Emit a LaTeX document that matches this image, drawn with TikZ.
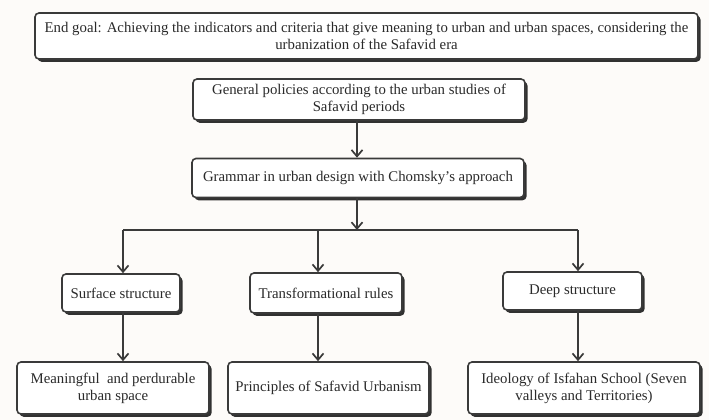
\documentclass[tikz,border=0pt]{standalone}
\usepackage{fontspec}
\setmainfont{Liberation Serif}
\usetikzlibrary{arrows.meta,shadows,calc}
\definecolor{ink}{HTML}{3A3A3A}
\definecolor{textink}{HTML}{2A2A2A}
\definecolor{paper}{HTML}{FDFBF9}
\tikzset{
  x=1pt, y=-1pt,
  box/.style={draw=ink, line width=1.6pt, rounded corners=4pt, fill=white,
    text=textink, align=center, inner sep=2pt,
    drop shadow={shadow xshift=2.6pt, shadow yshift=-2.8pt, fill=ink!85!black, opacity=1}},
  link/.style={draw=ink, line width=1.8pt},
  arr/.style={link, -{Straight Barb[length=6.5pt,width=11pt,line width=1.7pt]}},
  txt/.style={font=\fontsize{14.8}{17}\selectfont}
}
\begin{document}
\begin{tikzpicture}
\fill[paper] (0,0) rectangle (709,420);
\useasboundingbox (0,0) rectangle (709,420);

% boxes
\node[box, txt, minimum width=663pt, minimum height=46pt] (goal) at (366.5,36)
  {End goal: Achieving the indicators and criteria that give meaning to urban and urban spaces, considering the\\ urbanization of the Safavid era};
\node[box, txt, minimum width=332pt, minimum height=41pt] (policies) at (359,99.5)
  {General policies according to the urban studies of\\ Safavid periods};
\node[box, txt, minimum width=332pt, minimum height=39pt] (grammar) at (358,178)
  {Grammar in urban design with Chomsky's approach};

\node[box, txt, minimum width=118pt, minimum height=38pt] (surface) at (121,293) {Surface structure};
\node[box, txt, minimum width=152pt, minimum height=40pt] (trans) at (326,293) {Transformational rules};
\node[box, txt, minimum width=139pt, minimum height=38pt] (deep) at (572.5,291) {Deep structure};

\node[box, txt, minimum width=192pt, minimum height=52pt] (space) at (113,388)
  {Meaningful\ \ and perdurable\\ urban space};
\node[box, txt, minimum width=201pt, minimum height=52pt] (principles) at (328.5,388)
  {Principles of Safavid Urbanism};
\node[box, txt, minimum width=232pt, minimum height=52pt] (ideology) at (584,388)
  {Ideology of Isfahan School (Seven\\ valleys and Territories)};

% branching points
\coordinate (hub) at (357,230);
\coordinate (c1) at (123,230);
\coordinate (c2) at (318,230);
\coordinate (c3) at (578,230);

% connectors
\draw[arr] (policies.south -| hub) -- (grammar.north -| hub);
\draw[arr] (grammar.south -| hub) -- (hub);
\draw[link] (c1) -- (c3);
\draw[arr] (c1) -- (c1 |- surface.north);
\draw[arr] (c2) -- (c2 |- trans.north);
\draw[arr] (c3) -- (c3 |- deep.north);
\draw[arr] (c1 |- surface.south) -- (c1 |- space.north);
\draw[arr] (c2 |- trans.south) -- (c2 |- principles.north);
\draw[arr] (c3 |- deep.south) -- (c3 |- ideology.north);
\end{tikzpicture}
\end{document}
